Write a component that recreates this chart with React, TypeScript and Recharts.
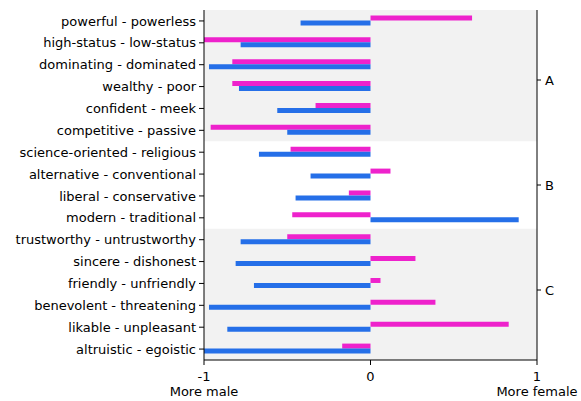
import React from 'react';
import { BarChart, Bar, XAxis, YAxis, ReferenceArea } from 'recharts';

const categories = [
  'powerful - powerless',
  'high-status - low-status',
  'dominating - dominated',
  'wealthy - poor',
  'confident - meek',
  'competitive - passive',
  'science-oriented - religious',
  'alternative - conventional',
  'liberal - conservative',
  'modern - traditional',
  'trustworthy - untrustworthy',
  'sincere - dishonest',
  'friendly - unfriendly',
  'benevolent - threatening',
  'likable - unpleasant',
  'altruistic - egoistic',
];
const pinkValues = [0.61, -1.0, -0.83, -0.83, -0.33, -0.96, -0.48, 0.12, -0.13, -0.47, -0.5, 0.27, 0.06, 0.39, 0.83, -0.17];
const blueValues = [-0.42, -0.78, -0.97, -0.79, -0.56, -0.5, -0.67, -0.36, -0.45, 0.89, -0.78, -0.81, -0.7, -0.97, -0.86, -1.0];

const groupNames = ['A', 'B', 'C'];
const groupSizes = [6, 4, 6];
const groupShaded = [true, false, true];
const groupLabelPositions = [3.0, 7.5, 12.0];

const xTicks = [-1, 0, 1];
const xTickCaptions = ['More male', '', 'More female'];

const FONT = 'DejaVu Sans';

const data = categories.map((name, i) => ({ name, pink: pinkValues[i], blue: blueValues[i] }));

const groupAreas = (() => {
  let start = 0;
  return groupSizes.map((size, i) => {
    const area = { first: categories[start], last: categories[start + size - 1], shaded: groupShaded[i] };
    start += size;
    return area;
  });
})();

const XTick = (props: any) => {
  const { x, y, payload } = props;
  const idx = xTicks.indexOf(payload.value);
  const caption = idx >= 0 ? xTickCaptions[idx] : '';
  return (
    <g>
      <text x={x} y={y + 16} textAnchor="middle" fontSize={13} fontFamily={FONT} fill="#000">
        {String(payload.value)}
      </text>
      {caption ? (
        <text x={x} y={y + 30.5} textAnchor="middle" fontSize={13} fontFamily={FONT} fill="#000">
          {caption}
        </text>
      ) : null}
    </g>
  );
};

export default function App() {
  return (
    <div style={{ position: 'absolute', left: 0, top: 0, width: 581, height: 401, background: '#fff' }}>
      <BarChart
        width={581}
        height={401}
        data={data}
        layout="vertical"
        margin={{ top: 10, right: 0, bottom: 0, left: 0 }}
        barCategoryGap="25%"
        barGap={0}
      >
        <XAxis
          type="number"
          domain={[-1, 1]}
          ticks={xTicks}
          height={41}
          tickSize={5}
          tickMargin={0}
          tick={<XTick />}
          stroke="#000"
          allowDataOverflow
        />
        <XAxis
          xAxisId="top"
          orientation="top"
          type="number"
          domain={[-1, 1]}
          height={0}
          tick={false}
          tickLine={false}
          stroke="#000"
        />
        <YAxis
          type="category"
          dataKey="name"
          width={204}
          tickSize={5}
          tickMargin={3}
          interval={0}
          stroke="#000"
          tick={{ fill: '#000', fontSize: 13, fontFamily: FONT }}
        />
        <YAxis
          yAxisId="grp"
          orientation="right"
          type="number"
          domain={[0, 15]}
          ticks={groupLabelPositions}
          interval={0}
          tickFormatter={(v: number) => groupNames[groupLabelPositions.indexOf(v)] ?? ''}
          width={44}
          tickSize={4}
          tickMargin={4}
          stroke="#000"
          allowDataOverflow
          tick={{ fill: '#000', fontSize: 13, fontFamily: FONT }}
        />
        {groupAreas.map((a, i) =>
          a.shaded ? (
            <ReferenceArea
              key={i}
              y1={a.first}
              y2={a.last}
              x1={-1}
              x2={1}
              fill="#f2f2f2"
              fillOpacity={1}
              stroke="none"
            />
          ) : null
        )}
        <Bar dataKey="pink" fill="#ee22cc" isAnimationActive={false} />
        <Bar dataKey="blue" fill="#256fe8" isAnimationActive={false} />
      </BarChart>
    </div>
  );
}
